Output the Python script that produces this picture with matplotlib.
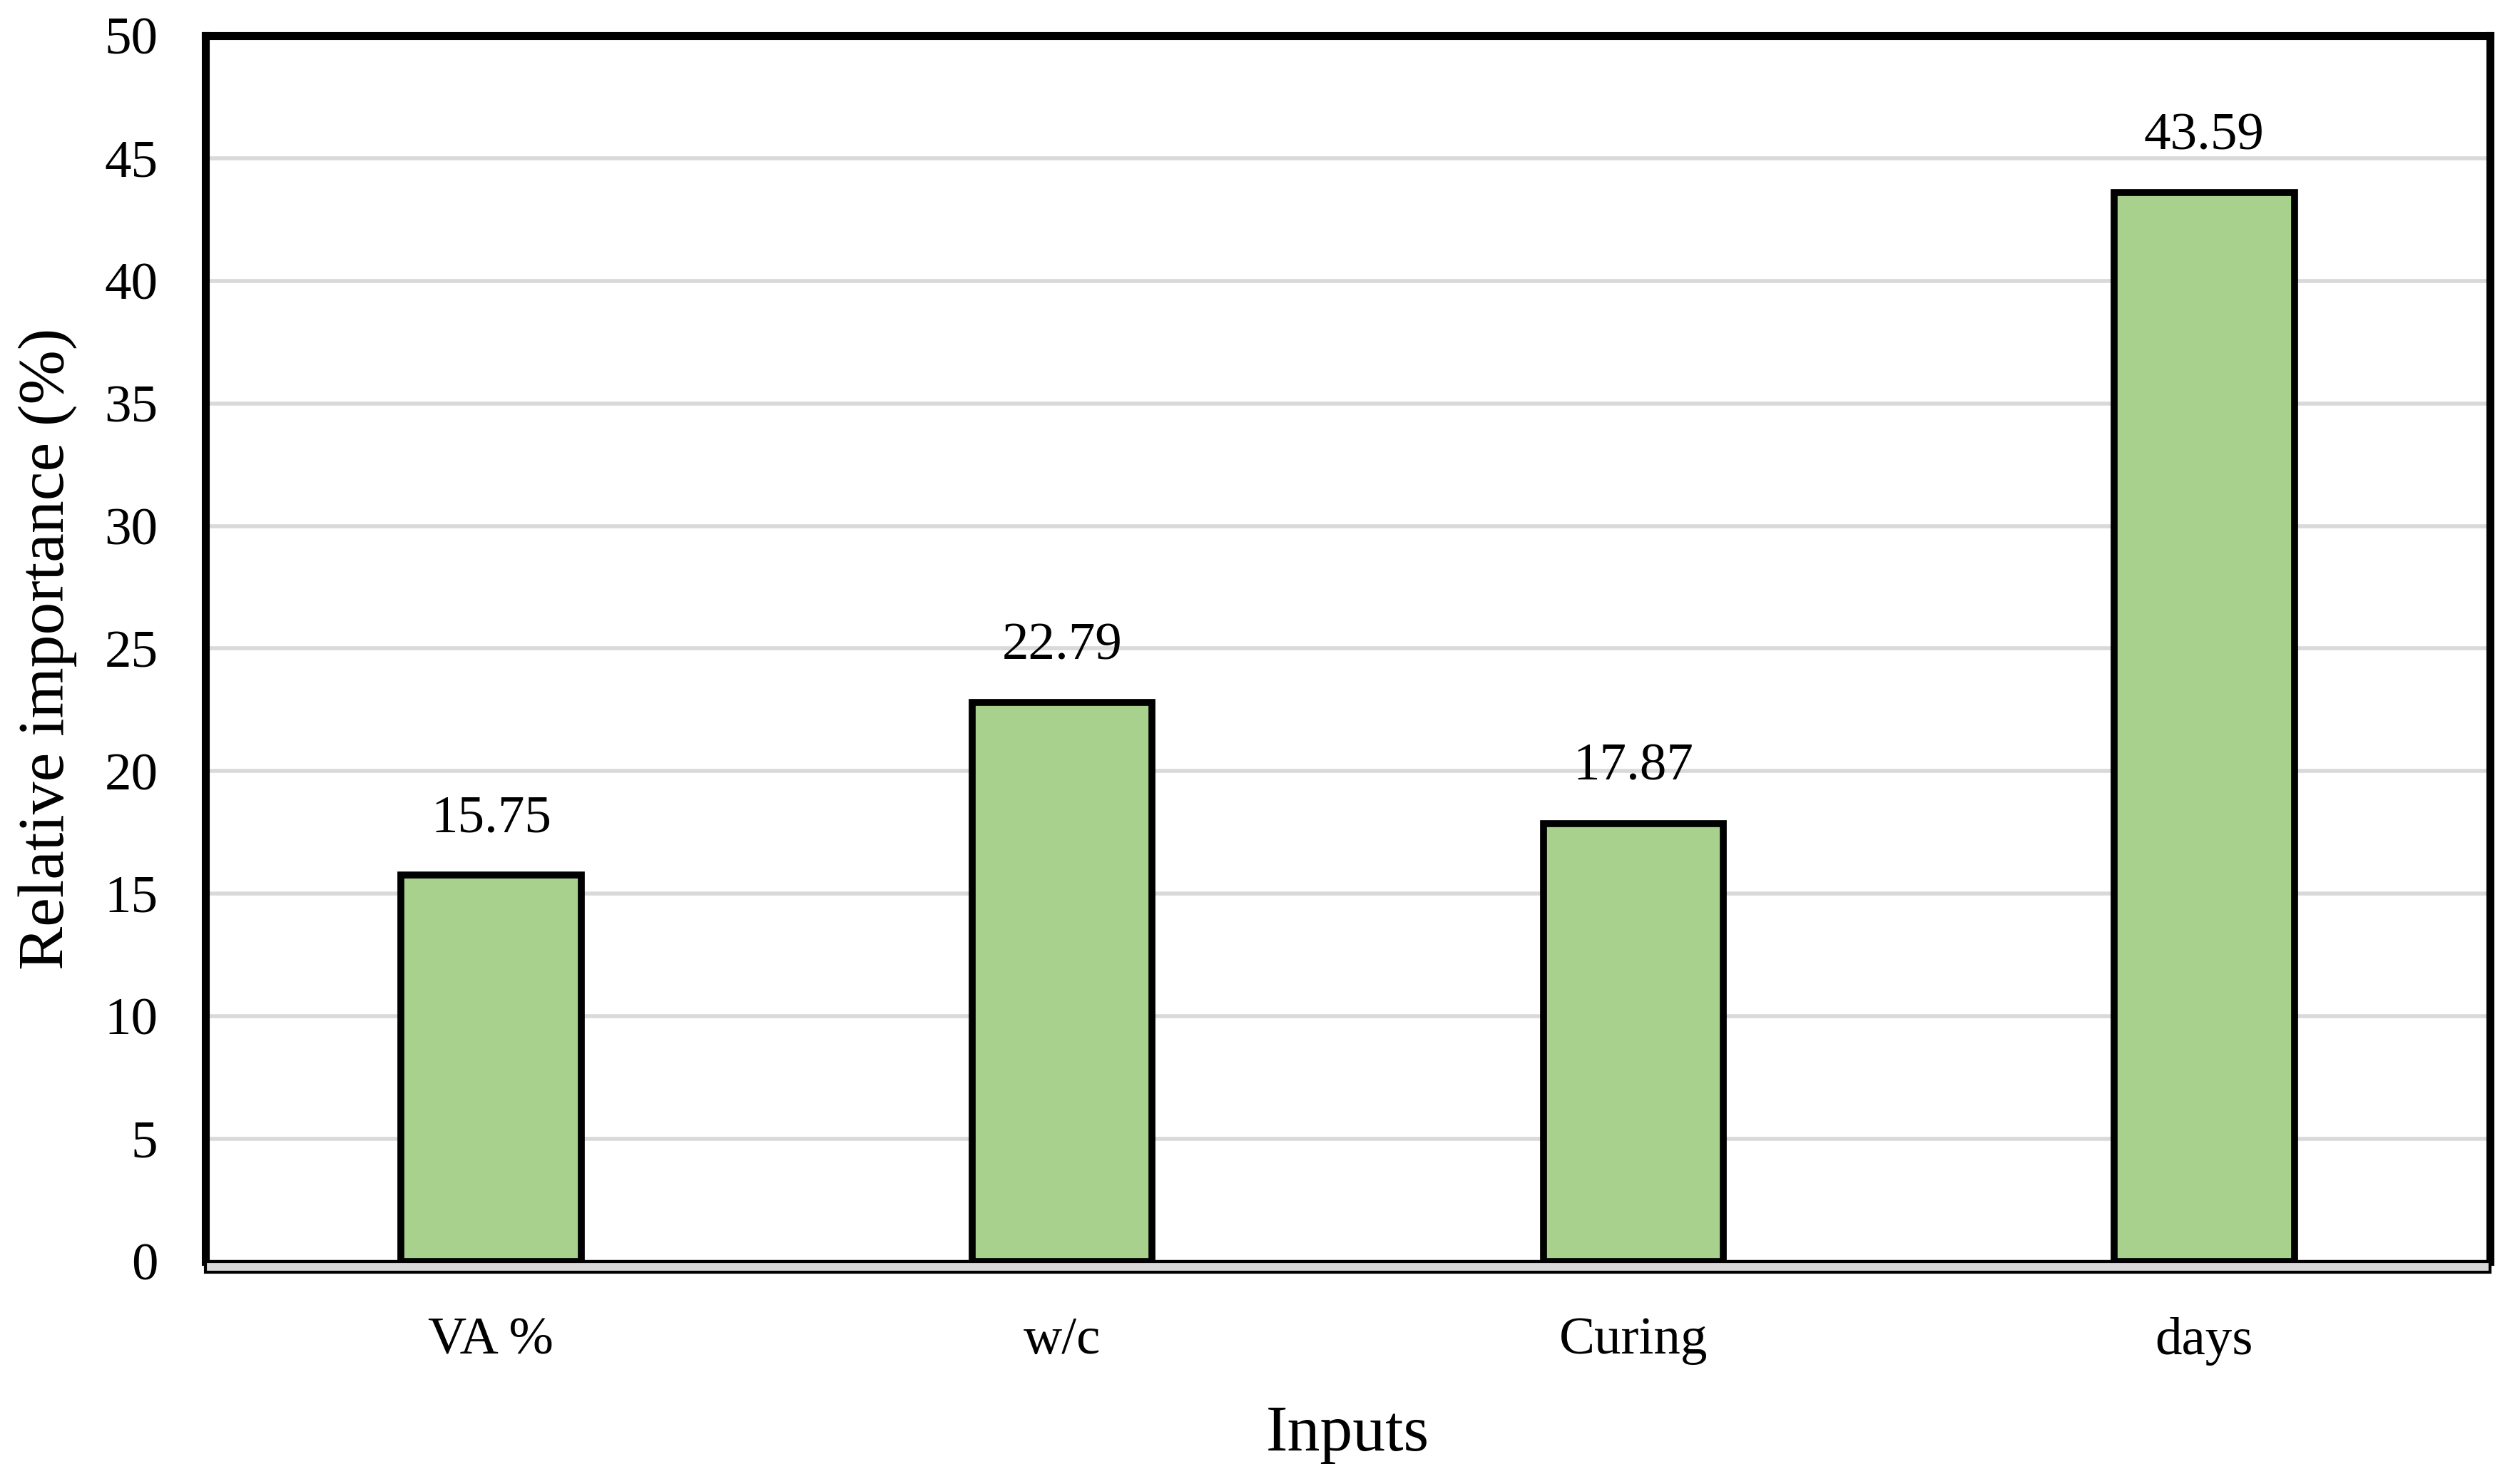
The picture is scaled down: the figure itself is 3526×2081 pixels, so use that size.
import numpy as np
import matplotlib
matplotlib.use("Agg")
import matplotlib.pyplot as plt
from matplotlib.patches import Rectangle

categories = ["VA %", "w/c", "Curing", "days"]
importance = [15.75, 22.79, 17.87, 43.59]
yticks = [0, 5, 10, 15, 20, 25, 30, 35, 40, 45, 50]

plt.rcParams['font.family'] = ['Liberation Serif', 'DejaVu Serif']

fig = plt.figure(figsize=(35.26, 20.81), dpi=100)
ax = fig.add_axes([0.0817, 0.150, 0.9083, 0.826])

x = np.arange(len(categories))
ax.bar(x, importance, width=0.315, color='#a9d18e', edgecolor='black', linewidth=7, zorder=3)

for xi, v in zip(x, importance):
	ax.annotate("%.2f" % v, (xi, v), xytext=(0, 44), textcoords='offset points',
		ha='center', va='baseline', fontsize=54)

ax.set_xlim(-0.5, 3.5)
ax.set_ylim(0, 50)
ax.set_yticks(yticks)
ax.set_xticks(x)
ax.set_xticklabels(categories)
ax.tick_params(axis='both', length=0, labelsize=54)
ax.tick_params(axis='y', pad=48)
ax.tick_params(axis='x', pad=56)

ax.yaxis.grid(True, color='#d9d9d9', linewidth=4, zorder=0)
ax.set_axisbelow(True)

for s in ['left', 'right', 'top']:
	ax.spines[s].set_linewidth(8)
	ax.spines[s].set_capstyle('projecting')
ax.spines['bottom'].set_visible(False)

# gray floor band under the plot
ax.add_patch(Rectangle((0, -0.009), 1, 0.009, transform=ax.transAxes, facecolor='#d9d9d9',
	edgecolor='black', linewidth=3, clip_on=False, zorder=4))

ax.set_xlabel("Inputs", fontsize=66, labelpad=40)
ax.set_ylabel("Relative importance (%)", fontsize=66, labelpad=28)

plt.savefig("out.png", dpi=100)
